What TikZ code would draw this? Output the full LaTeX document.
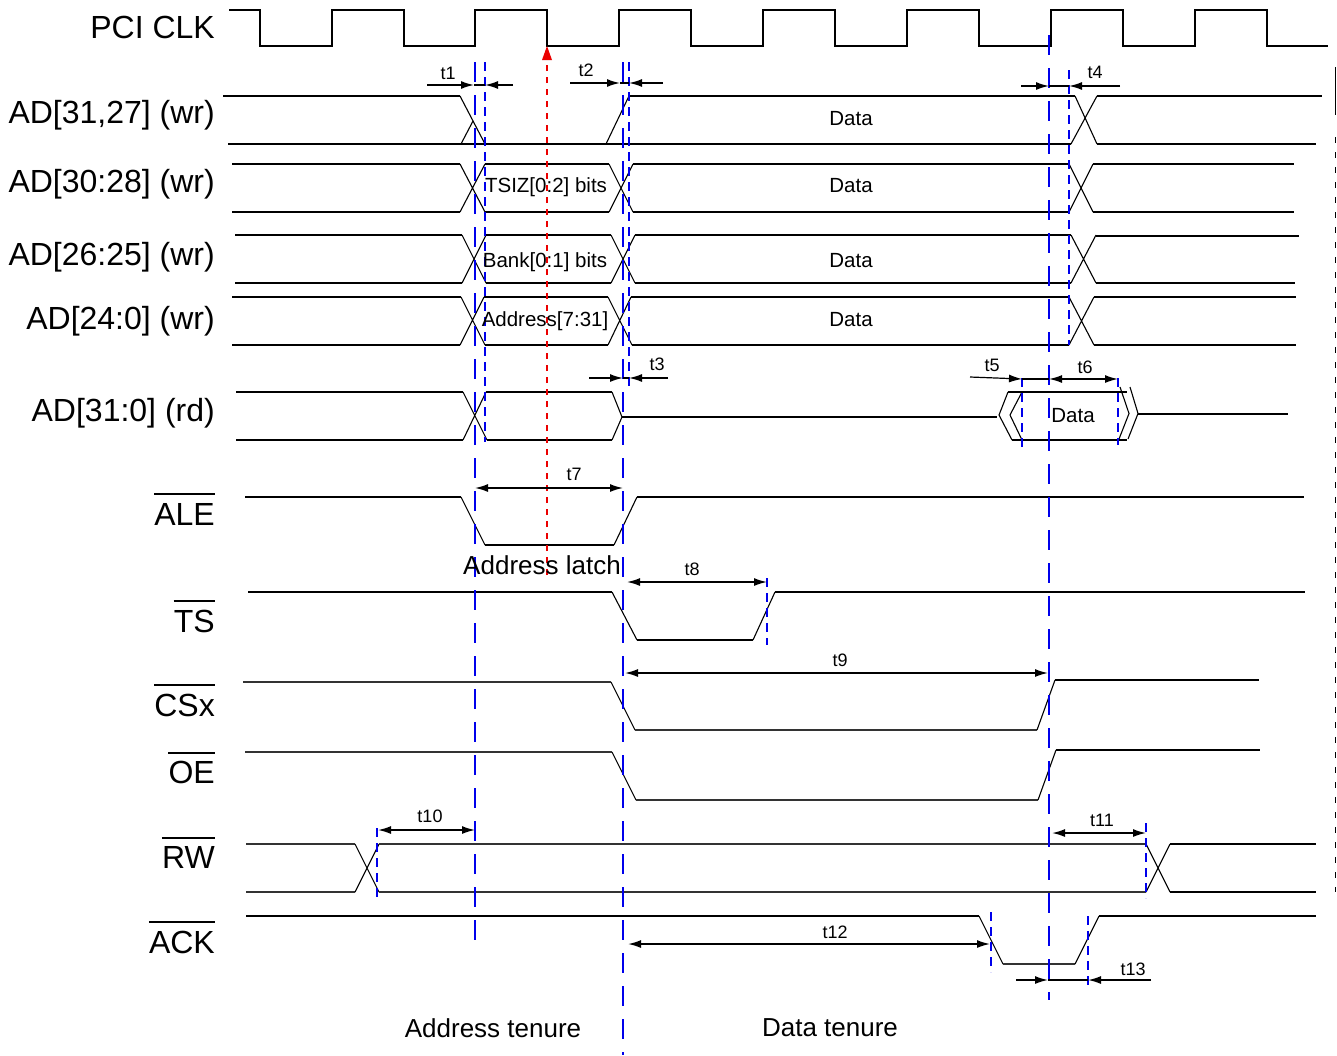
\documentclass[tikz,border=0pt]{standalone}
\usepackage{fontspec}
\setmainfont{Liberation Sans}
\usetikzlibrary{arrows.meta}
\definecolor{dblue}{RGB}{0,0,235}
\definecolor{dred}{RGB}{235,0,0}
\begin{document}
\begin{tikzpicture}[x=1pt,y=-1pt,
 sig/.style={line width=1.8pt},
 sigg/.style={line width=1.6pt, black!80},
 edg/.style={line width=1.1pt},
 clk/.style={line width=2pt},
 bl/.style={dblue, line width=2.4pt, dash pattern=on 20pt off 13pt},
 bs/.style={dblue, line width=2pt, dash pattern=on 9pt off 6pt},
 tip/.style={line width=1.6pt, -{Latex[length=13pt,width=8pt]}},
 dtip/.style={line width=1.6pt, {Latex[length=13pt,width=8pt]}-{Latex[length=13pt,width=8pt]}},
 lab/.style={font=\fontsize{32}{38}\selectfont, anchor=base east, inner sep=0pt},
 tl/.style={font=\fontsize{18}{21}\selectfont, inner sep=0pt},
 dl/.style={font=\fontsize{20.5}{24}\selectfont, inner sep=0pt},
 bigl/.style={font=\fontsize{26}{30}\selectfont, inner sep=0pt},
 ovl/.style={line width=2.6pt}]
\useasboundingbox (0,0) rectangle (1337,1055);

% ---------- labels ----------
\node[lab] (lclk) at (215,38.5) {PCI CLK};
\node[lab] (lr1) at (215,123.5) {AD[31,27] (wr)};
\node[lab] (lr2) at (215,192) {AD[30:28] (wr)};
\node[lab] (lr3) at (215,265) {AD[26:25] (wr)};
\node[lab] (lr4) at (215,329) {AD[24:0] (wr)};
\node[lab] (lr5) at (215,421) {AD[31:0] (rd)};
\node[lab] (ale) at (215,525) {ALE};
\node[lab] (ts) at (215,632) {TS};
\node[lab] (csx) at (215,716) {CSx};
\node[lab] (oe) at (215,783) {OE};
\node[lab] (rw) at (215,868) {RW};
\node[lab] (ack) at (215,953) {ACK};
\draw[ovl] (ale.west |- 0,494) -- (ale.east |- 0,494);
\draw[ovl] (ts.west |- 0,601) -- (ts.east |- 0,601);
\draw[ovl] (csx.west |- 0,685) -- (csx.east |- 0,685);
\draw[ovl] (oe.west |- 0,753) -- (oe.east |- 0,753);
\draw[ovl] (rw.west |- 0,838) -- (rw.east |- 0,838);
\draw[ovl] (ack.west |- 0,922) -- (ack.east |- 0,922);

% ---------- clock ----------
\draw[clk] (229,10) -- (260,10) -- (260,46) -- (332,46) -- (332,10) -- (404,10) -- (404,46)
 -- (475,46) -- (475,10) -- (547,10) -- (547,46) -- (619,46) -- (619,10) -- (691,10) -- (691,46)
 -- (763,46) -- (763,10) -- (835,10) -- (835,46) -- (907,46) -- (907,10) -- (979,10) -- (979,46)
 -- (1051,46) -- (1051,10) -- (1123,10) -- (1123,46) -- (1195,46) -- (1195,10) -- (1267,10)
 -- (1267,46) -- (1328,46);

% ---------- row 1 AD[31,27] ----------
\draw[sig] (223,96) -- (460,96);
\draw[edg] (460,96) -- (485,144);
\draw[edg] (461,144) -- (473,121);
\draw[sig] (228,144) -- (1071,144);
\draw[edg] (606,144) -- (629,96);
\draw[sig] (629,96) -- (1075,96);
\draw[edg] (1075,96) -- (1097,144);
\draw[edg] (1071,144) -- (1097,96);
\draw[sig] (1097,96) -- (1322,96);
\draw[sig] (1097,144) -- (1316,144);

% ---------- row 2 AD[30:28] ----------
\draw[sig] (232,164) -- (460,164) (232,212) -- (460,212);
\draw[edg] (460,164) -- (485,212) (460,212) -- (485,164);
\draw[sig] (485,164) -- (609,164) (485,212) -- (609,212);
\draw[edg] (609,164) -- (633,212) (609,212) -- (633,164);
\draw[sig] (633,164) -- (1069,164) (633,212) -- (1069,212);
\draw[edg] (1069,164) -- (1093,212) (1069,212) -- (1093,164);
\draw[sig] (1093,164) -- (1294,164) (1093,212) -- (1294,212);

% ---------- row 3 AD[26:25] ----------
\draw[sig] (235,235) -- (462,235) (235,283) -- (462,283);
\draw[edg] (462,235) -- (486,283) (462,283) -- (486,235);
\draw[sig] (486,235) -- (611,235) (486,283) -- (611,283);
\draw[edg] (611,235) -- (635,283) (611,283) -- (635,235);
\draw[sig] (635,235) -- (1071,235) (635,283) -- (1071,283);
\draw[edg] (1071,235) -- (1096,283) (1071,283) -- (1096,235);
\draw[sig] (1096,236) -- (1299,236) (1096,283) -- (1295,283);

% ---------- row 4 AD[24:0] ----------
\draw[sig] (232,297) -- (461,297) (232,345) -- (460,345);
\draw[edg] (461,297) -- (485,345) (460,345) -- (484,297);
\draw[sig] (484,297) -- (608,297) (485,345) -- (608,345);
\draw[edg] (608,297) -- (632,345) (608,345) -- (631,297);
\draw[sig] (631,297) -- (1069,297) (632,345) -- (1069,345);
\draw[edg] (1069,297) -- (1094,345) (1069,345) -- (1094,297);
\draw[sig] (1094,297) -- (1296,297) (1094,345) -- (1296,345);

% ---------- row 5 AD[31:0] rd ----------
\draw[sig] (236,392) -- (463,392) (236,440) -- (463,440);
\draw[edg] (463,392) -- (487,440) (463,440) -- (486,392);
\draw[sig] (486,392) -- (612,392) (487,440) -- (612,440);
\draw[edg] (612,392) -- (622,417) (612,440) -- (622,417);
\draw[sig] (622,417) -- (997,417);
\draw[edg] (1008,392) -- (999,415) -- (1012,440);
\draw[edg] (1022,392) -- (1010,415) -- (1022,440);
\draw[sig] (1008,392) -- (1127,392) (1012,440) -- (1127,440);
\draw[edg] (1120,387) -- (1129,413.5) -- (1119,439);
\draw[edg] (1130,387) -- (1138,413.5) -- (1128,439);
\draw[sig] (1138,414) -- (1288,414);

% ---------- ALE ----------
\draw[sig] (245,497) -- (461,497);
\draw[edg] (461,497) -- (485,545);
\draw[sig] (485,545) -- (614,545);
\draw[edg] (614,545) -- (637,497);
\draw[sig] (637,497) -- (1304,497);

% ---------- TS ----------
\draw[sig] (248,592) -- (612,592);
\draw[edg] (612,592) -- (637,640);
\draw[sig] (637,640) -- (753,640);
\draw[edg] (753,640) -- (775,592);
\draw[sig] (775,592) -- (1305,592);

% ---------- CSx ----------
\draw[sigg] (243,682) -- (611,682);
\draw[edg] (611,682) -- (635,730);
\draw[sigg] (635,730) -- (1037,730);
\draw[edg] (1037,730) -- (1055,680);
\draw[sig] (1055,680) -- (1259,680);

% ---------- OE ----------
\draw[sigg] (245,752) -- (612,752);
\draw[edg] (612,752) -- (636,800);
\draw[sigg] (636,800) -- (1038,800);
\draw[edg] (1038,800) -- (1056,750);
\draw[sig] (1056,750) -- (1260,750);

% ---------- RW ----------
\draw[sigg] (246,844) -- (355,844) (246,892) -- (355,892);
\draw[edg] (355,844) -- (379,892) (355,892) -- (379,844);
\draw[sigg] (379,844) -- (1146,844) (379,892) -- (1146,892);
\draw[edg] (1146,844) -- (1170,892) (1146,892) -- (1170,844);
\draw[sig] (1170,844) -- (1316,844) (1170,892) -- (1316,892);

% ---------- ACK ----------
\draw[sig] (246,916) -- (979,916);
\draw[edg] (979,916) -- (1003,964);
\draw[sigg] (1003,964) -- (1075,964);
\draw[edg] (1075,964) -- (1099,916);
\draw[sig] (1099,916) -- (1316,916);

% ---------- right border ----------
\draw[line width=1.5pt] (1335.5,67) -- (1335.5,115);
\draw[line width=1.5pt, dash pattern=on 6pt off 9pt] (1335.5,137) -- (1335.5,892);

% ---------- blue reference lines ----------
\draw[bl] (475,62) -- (475,952);
\draw[bl] (623,62) -- (623,1055);
\draw[bl] (1049,35) -- (1049,1000);
\draw[bs] (485,62) -- (485,442);
\draw[bs] (629,62) -- (629,390);
\draw[bs] (1069,70) -- (1069,345);
\draw[bs] (1022,378) -- (1022,448);
\draw[bs] (1118,378) -- (1118,445);
\draw[bs] (767,578) -- (767,645);
\draw[bs] (377,828) -- (377,902);
\draw[bs] (1146,823) -- (1146,898);
\draw[bs] (991,912) -- (991,972);
\draw[bs] (1088,916) -- (1088,985);

% ---------- red marker ----------
\draw[dred, line width=2pt, dash pattern=on 6pt off 6pt] (547,575) -- (547,58);
\fill[dred] (547,46) -- (542,60) -- (552,60) -- cycle;

% ---------- timing arrows ----------
\draw[tip] (427,85) -- (474,85);
\draw[tip] (513,85) -- (485,85);
\draw[line width=1.6pt] (474,85) -- (485,85);
\draw[tip] (570,83) -- (620,83);
\draw[tip] (663,83) -- (629,83);
\draw[line width=1.6pt] (620,83) -- (629,83);
\draw[tip] (589,378) -- (623,378);
\draw[tip] (668,378) -- (629,378);
\draw[line width=1.6pt] (623,378) -- (629,378);
\draw[tip] (1021,86) -- (1049,86);
\draw[tip] (1120,86) -- (1069,86);
\draw[line width=1.6pt] (1049,86) -- (1069,86);
\draw[tip, line width=1.2pt] (970,377) -- (1022,379);
\draw[line width=1.6pt] (1022,379) -- (1049,379);
\draw[dtip] (1049,379) -- (1118,379);
\draw[dtip] (475,488) -- (623,488);
\draw[dtip] (627,582) -- (767,582);
\draw[dtip] (625,673) -- (1048,673);
\draw[dtip] (378,830) -- (475,830);
\draw[dtip] (1052,833) -- (1146,833);
\draw[dtip] (628,944) -- (990,944);
\draw[tip] (1016,980) -- (1048,980);
\draw[tip] (1151,980) -- (1088,980);
\draw[line width=1.6pt] (1048,980) -- (1088,980);

% ---------- timing labels ----------
\node[tl] (t1) at (448,73) {t1};
\node[tl] (t2) at (586,70) {t2};
\node[tl] (t3) at (657,364) {t3};
\node[tl] (t4) at (1095,72) {t4};
\node[tl] (t5) at (992,365) {t5};
\node[tl] (t6) at (1085,367) {t6};
\node[tl] (t7) at (574,474) {t7};
\node[tl] (t8) at (692,569) {t8};
\node[tl] (t9) at (840,660) {t9};
\node[tl] (t10) at (430,816) {t10};
\node[tl] (t11) at (1102,820) {t11};
\node[tl] (t12) at (835,932) {t12};
\node[tl] (t13) at (1133,969) {t13};

% ---------- data labels ----------
\node[dl] (d1) at (851,119) {Data};
\node[dl] (d2) at (851,186) {Data};
\node[dl] (d3) at (851,261) {Data};
\node[dl] (d4) at (851,320) {Data};
\node[dl] (d5) at (1073,416) {Data};
\node[dl] (tsiz) at (546,187) {TSIZ[0:2] bits};
\node[dl] (bank) at (545,262) {Bank[0:1] bits};
\node[dl] (addr) at (545,321) {Address[7:31]};
\node[bigl] (alatch) at (542,565) {Address latch};
\node[bigl] (aten) at (493,1028) {Address tenure};
\node[bigl] (dten) at (830,1028) {Data tenure};
\end{tikzpicture}
\end{document}
